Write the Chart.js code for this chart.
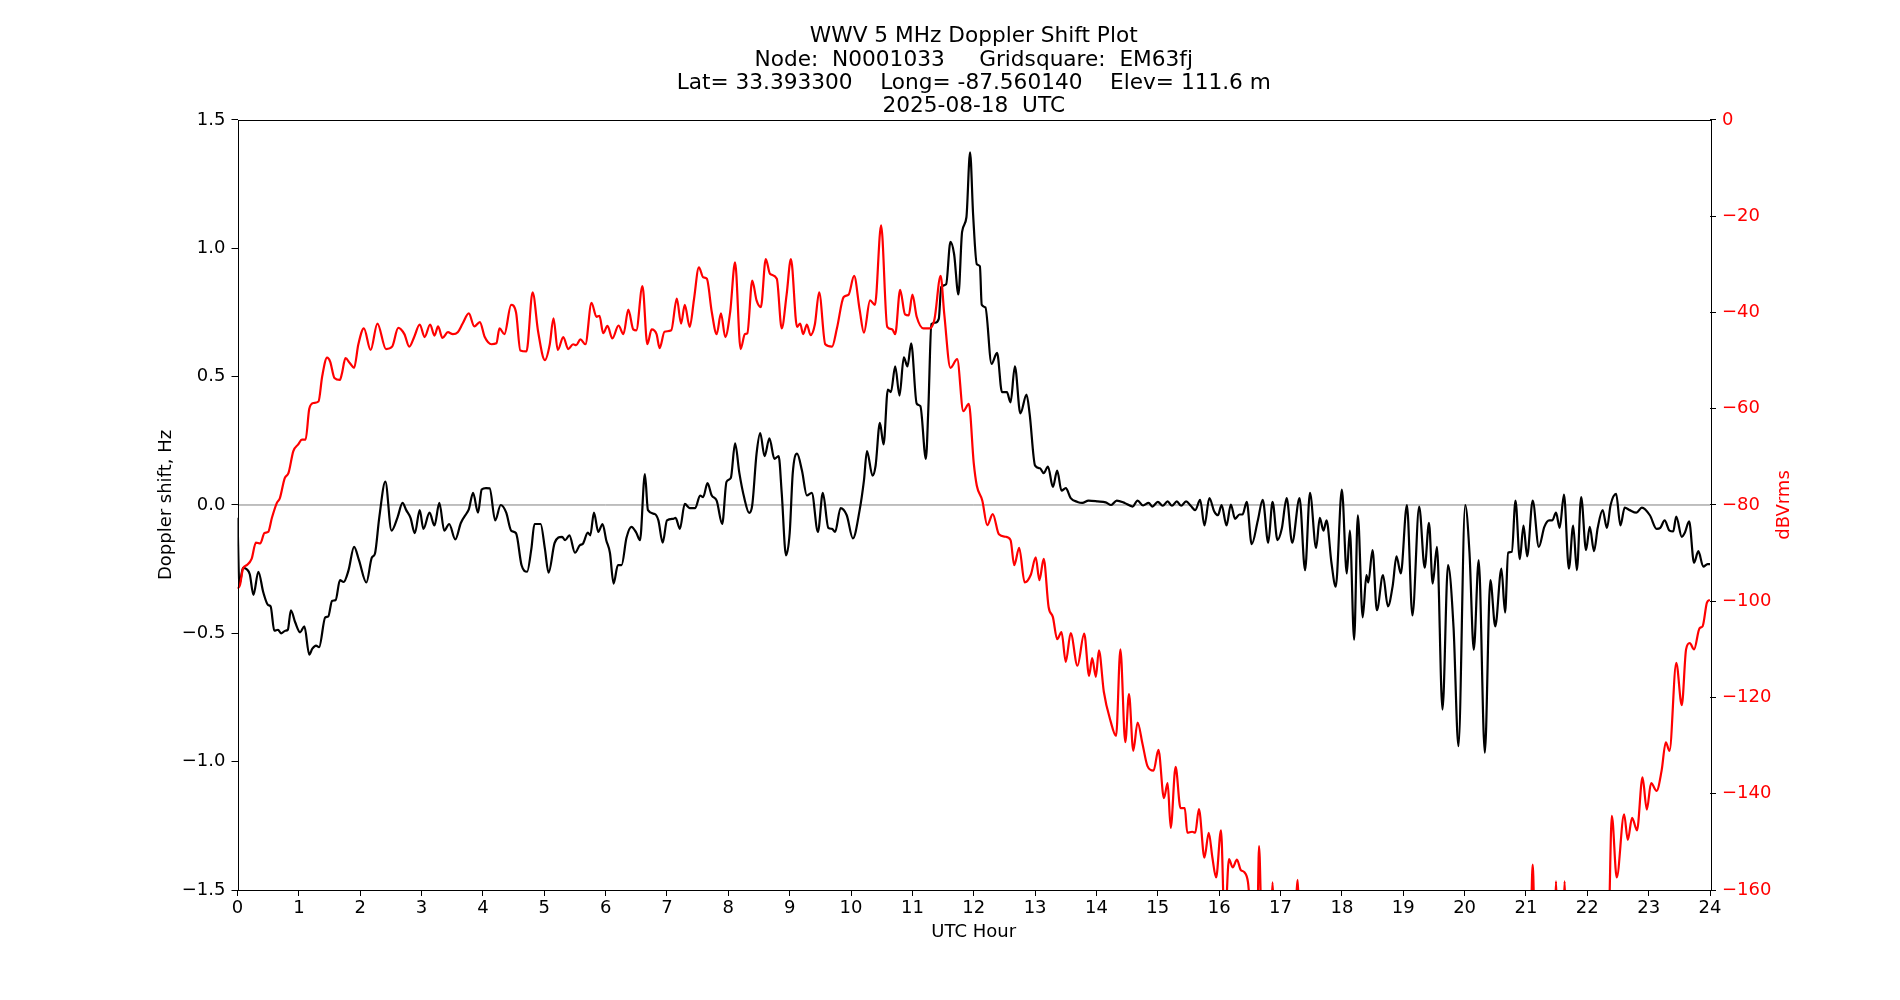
<!DOCTYPE html>
<html>
<head>
<meta charset="utf-8">
<title>WWV 5 MHz Doppler Shift Plot</title>
<script src="https://cdn.jsdelivr.net/npm/chart.js"></script>
<style>
  html, body { margin: 0; padding: 0; background: #ffffff; }
  #wrap { width: 1900px; height: 1000px; }
</style>
</head>
<body>
<div id="wrap"><canvas id="c" width="1900" height="1000"></canvas></div>
<script>
// ---------------- data ----------------
const titleLines = [
  'WWV 5 MHz Doppler Shift Plot',
  'Node:  N0001033     Gridsquare:  EM63fj',
  'Lat= 33.393300    Long= -87.560140    Elev= 111.6 m',
  '2025-08-18  UTC'
];
const xAxisLabel = 'UTC Hour';
const leftAxisLabel = 'Doppler shift, Hz';
const rightAxisLabel = 'dBVrms';

const hourTicks = [0,1,2,3,4,5,6,7,8,9,10,11,12,13,14,15,16,17,18,19,20,21,22,23,24];
const hzTicks = [-1.5,-1.0,-0.5,0.0,0.5,1.0,1.5];
const dbTicks = [-160,-140,-120,-100,-80,-60,-40,-20,0];

const dopplerHours = [
  0.00,0.03,0.09,0.15,0.20,0.26,0.34,0.42,0.50,0.54,0.60,0.66,0.71,0.78,0.82,0.87,0.94,1.02,1.09,1.17,
  1.22,1.28,1.33,1.43,1.48,1.54,1.60,1.67,1.73,1.81,1.90,1.98,2.10,2.19,2.24,2.31,2.41,2.51,2.61,2.69,
  2.75,2.82,2.89,2.97,3.03,3.13,3.21,3.29,3.37,3.45,3.55,3.64,3.74,3.77,3.84,3.92,3.98,4.05,4.11,4.20,
  4.29,4.38,4.46,4.54,4.63,4.72,4.79,4.84,4.94,5.01,5.07,5.17,5.29,5.34,5.41,5.50,5.58,5.63,5.71,5.75,
  5.81,5.88,5.95,6.01,6.07,6.13,6.20,6.26,6.34,6.42,6.50,6.56,6.64,6.69,6.80,6.86,6.93,7.00,7.10,7.14,
  7.21,7.29,7.37,7.46,7.54,7.59,7.66,7.73,7.81,7.90,7.97,8.04,8.11,8.18,8.26,8.34,8.39,8.46,8.52,8.59,
  8.67,8.75,8.82,8.87,8.94,9.00,9.05,9.12,9.20,9.28,9.36,9.46,9.54,9.63,9.69,9.74,9.83,9.93,10.03,10.14,
  10.21,10.26,10.35,10.40,10.47,10.53,10.60,10.65,10.72,10.79,10.86,10.92,10.98,11.07,11.13,11.22,11.26,11.31,11.37,11.43,
  11.47,11.55,11.62,11.68,11.75,11.81,11.88,11.94,11.99,12.05,12.10,12.13,12.19,12.29,12.38,12.46,12.54,12.60,12.67,12.76,
  12.86,12.91,13.00,13.08,13.14,13.21,13.29,13.36,13.43,13.50,13.58,13.69,13.77,13.87,14.02,14.15,14.24,14.33,14.46,14.59,
  14.67,14.76,14.85,14.91,15.00,15.08,15.16,15.23,15.31,15.38,15.46,15.54,15.61,15.69,15.76,15.84,15.92,15.98,16.04,16.12,
  16.19,16.26,16.33,16.38,16.45,16.53,16.63,16.71,16.80,16.87,16.95,17.02,17.10,17.19,17.31,17.40,17.48,17.58,17.64,17.70,
  17.75,17.83,17.90,18.00,18.08,18.13,18.20,18.26,18.34,18.40,18.43,18.50,18.57,18.67,18.75,18.83,18.89,18.96,19.06,19.15,
  19.26,19.35,19.42,19.48,19.55,19.64,19.73,19.82,19.90,20.01,20.08,20.15,20.23,20.33,20.42,20.50,20.60,20.66,20.71,20.77,
  20.83,20.90,20.96,21.02,21.11,21.21,21.30,21.38,21.43,21.49,21.55,21.62,21.70,21.77,21.83,21.90,21.98,22.04,22.11,22.17,
  22.25,22.32,22.38,22.47,22.54,22.61,22.69,22.80,22.89,23.02,23.13,23.19,23.26,23.34,23.40,23.45,23.54,23.59,23.66,23.74,
  23.81,23.89,23.96,24.00
];
const dopplerHz = [
  -0.05,-0.31,-0.245,-0.25,-0.27,-0.35,-0.26,-0.34,-0.39,-0.395,-0.49,-0.486,-0.50,-0.49,-0.486,-0.41,-0.457,-0.496,-0.473,-0.583,
  -0.56,-0.548,-0.554,-0.438,-0.434,-0.374,-0.37,-0.293,-0.30,-0.254,-0.163,-0.215,-0.302,-0.205,-0.19,-0.05,0.091,-0.10,-0.047,0.008,
  -0.02,-0.05,-0.11,-0.02,-0.093,-0.03,-0.08,0.008,-0.10,-0.074,-0.134,-0.07,-0.03,-0.017,0.047,-0.03,0.06,0.066,0.065,-0.06,
  0.0,-0.03,-0.10,-0.11,-0.235,-0.26,-0.17,-0.074,-0.074,-0.17,-0.264,-0.147,-0.124,-0.137,-0.118,-0.186,-0.157,-0.151,-0.108,-0.118,
  -0.03,-0.105,-0.074,-0.137,-0.186,-0.306,-0.234,-0.234,-0.128,-0.085,-0.108,-0.137,0.12,-0.02,-0.035,-0.06,-0.147,-0.06,-0.054,-0.05,
  -0.093,0.004,-0.012,-0.012,0.037,0.031,0.085,0.037,0.017,-0.074,0.09,0.105,0.24,0.124,0.027,-0.031,0.0,0.20,0.28,0.19,
  0.26,0.18,0.19,0.047,-0.196,-0.109,0.124,0.20,0.134,0.037,0.047,-0.105,0.047,-0.089,-0.093,-0.105,-0.012,-0.04,-0.13,-0.02,
  0.095,0.21,0.114,0.153,0.32,0.236,0.45,0.44,0.54,0.426,0.575,0.54,0.63,0.395,0.385,0.18,0.376,0.705,0.71,0.725,
  0.85,0.86,1.025,0.977,0.82,1.064,1.12,1.374,1.13,0.938,0.93,0.78,0.77,0.55,0.593,0.44,0.44,0.40,0.54,0.357,
  0.43,0.357,0.153,0.143,0.124,0.15,0.07,0.134,0.056,0.066,0.027,0.012,0.008,0.017,0.014,0.01,0.0,0.017,0.008,-0.006,
  0.017,-0.002,0.008,-0.006,0.012,-0.003,0.014,-0.003,0.014,-0.003,0.014,-0.004,-0.02,0.02,-0.08,0.027,-0.025,-0.04,0.0,-0.08,
  0.002,-0.054,-0.037,-0.037,0.012,-0.153,-0.06,0.02,-0.147,0.012,-0.137,-0.093,0.027,-0.147,0.027,-0.254,0.047,-0.167,-0.05,-0.10,
  -0.06,-0.225,-0.318,0.06,-0.267,-0.10,-0.525,-0.04,-0.438,-0.273,-0.302,-0.176,-0.41,-0.273,-0.395,-0.312,-0.20,-0.267,0.0,-0.43,
  -0.006,-0.244,-0.07,-0.306,-0.163,-0.797,-0.234,-0.477,-0.94,0.0,-0.186,-0.564,-0.215,-0.965,-0.293,-0.473,-0.248,-0.419,-0.186,-0.182,
  0.017,-0.211,-0.08,-0.20,0.017,-0.163,-0.085,-0.06,-0.06,-0.03,-0.089,0.04,-0.248,-0.08,-0.254,0.031,-0.176,-0.085,-0.18,-0.089,
  -0.02,-0.089,0.0,0.043,-0.08,-0.01,-0.02,-0.03,-0.01,-0.04,-0.093,-0.089,-0.06,-0.10,-0.103,-0.045,-0.124,-0.108,-0.064,-0.225,
  -0.18,-0.24,-0.23,-0.23
];

const powerHours = [
  0.00,0.04,0.09,0.15,0.23,0.30,0.37,0.44,0.50,0.56,0.64,0.69,0.77,0.83,0.91,0.99,1.05,1.11,1.17,1.24,
  1.32,1.38,1.46,1.51,1.58,1.67,1.70,1.76,1.83,1.90,1.97,2.06,2.17,2.28,2.42,2.52,2.62,2.72,2.80,2.88,
  2.97,3.05,3.14,3.21,3.27,3.34,3.43,3.51,3.59,3.67,3.77,3.86,3.95,4.03,4.14,4.22,4.27,4.35,4.46,4.54,
  4.61,4.71,4.81,4.90,5.01,5.09,5.15,5.22,5.31,5.39,5.47,5.52,5.59,5.67,5.77,5.85,5.90,5.96,6.03,6.11,
  6.21,6.29,6.37,6.45,6.50,6.60,6.68,6.75,6.83,6.88,6.96,7.07,7.16,7.23,7.29,7.37,7.44,7.52,7.59,7.65,
  7.73,7.81,7.88,7.95,8.03,8.11,8.20,8.27,8.31,8.39,8.46,8.53,8.61,8.68,8.79,8.87,8.95,9.02,9.12,9.17,
  9.22,9.28,9.34,9.41,9.48,9.58,9.69,9.77,9.88,9.96,10.05,10.14,10.21,10.31,10.39,10.49,10.59,10.67,10.72,10.80,
  10.88,10.94,11.00,11.07,11.18,11.28,11.36,11.46,11.52,11.62,11.73,11.83,11.92,12.00,12.05,12.14,12.22,12.31,12.41,12.52,
  12.60,12.66,12.74,12.83,12.93,13.01,13.07,13.14,13.22,13.29,13.36,13.43,13.50,13.58,13.69,13.80,13.88,13.93,13.99,14.04,
  14.12,14.23,14.32,14.39,14.47,14.53,14.60,14.67,14.75,14.83,14.93,15.01,15.10,15.16,15.21,15.29,15.37,15.44,15.48,15.56,
  15.61,15.67,15.76,15.83,15.89,15.95,16.03,16.09,16.16,16.22,16.29,16.35,16.41,16.47,16.55,16.62,16.65,16.70,16.83,16.87,
  16.91,17.22,17.28,17.32,21.07,21.11,21.15,21.46,21.49,21.52,21.60,21.63,21.66,22.34,22.40,22.48,22.60,22.66,22.73,22.81,
  22.90,22.97,23.04,23.13,23.21,23.28,23.34,23.45,23.54,23.61,23.67,23.74,23.83,23.88,23.95,24.00
];
const powerDb = [
  -97.4,-96.6,-93.2,-92.5,-91.2,-87.8,-88.0,-85.8,-85.6,-82.7,-79.6,-78.6,-74.4,-73.4,-68.8,-67.4,-66.4,-66.4,-60.0,-58.8,
  -58.5,-53.3,-49.4,-50.2,-53.6,-54.0,-52.8,-49.5,-50.5,-51.5,-46.6,-43.3,-47.8,-42.3,-47.6,-47.1,-43.2,-44.5,-47.1,-45.1,
  -42.5,-45.1,-42.5,-44.8,-42.9,-45.3,-44.1,-44.5,-44.1,-42.3,-40.2,-42.9,-42.0,-45.1,-46.6,-46.4,-43.3,-44.5,-38.4,-40.0,
  -47.9,-48.1,-35.8,-44.0,-49.9,-46.6,-41.2,-47.8,-45.1,-47.6,-46.6,-46.8,-45.6,-46.6,-38.0,-40.9,-40.7,-44.3,-42.8,-45.4,
  -42.7,-44.5,-39.4,-43.5,-43.7,-34.5,-46.6,-43.5,-44.5,-47.4,-44.0,-43.7,-37.1,-42.3,-38.4,-43.0,-37.3,-30.6,-32.7,-33.0,
  -39.9,-44.5,-40.2,-45.1,-39.9,-29.6,-47.6,-44.5,-44.3,-33.4,-37.5,-38.9,-28.9,-32.0,-33.0,-43.3,-36.3,-28.9,-43.0,-42.3,
  -44.5,-42.5,-44.7,-42.5,-35.8,-46.6,-47.1,-43.3,-36.8,-36.3,-32.4,-39.4,-44.2,-37.5,-38.4,-21.9,-43.0,-43.5,-44.5,-35.3,
  -40.4,-40.6,-36.3,-40.9,-43.3,-43.3,-41.4,-32.4,-40.4,-51.5,-49.7,-60.5,-59.0,-71.3,-76.0,-79.1,-84.2,-81.9,-86.1,-86.6,
  -87.3,-92.5,-88.9,-96.1,-94.5,-90.9,-95.6,-91.2,-101.2,-103.3,-107.9,-106.4,-112.6,-106.6,-113.4,-106.7,-115.5,-111.8,-115.7,-110.2,
  -118.8,-124.9,-128.0,-110.0,-129.3,-119.3,-131.1,-125.2,-129.6,-134.2,-135.2,-130.9,-140.9,-137.8,-147.1,-134.4,-143.0,-143.0,-148.1,-147.9,
  -148.1,-143.2,-153.3,-148.1,-153.3,-157.4,-147.6,-168.0,-153.6,-155.3,-153.7,-155.8,-156.3,-158.4,-170.0,-168.0,-150.9,-170.0,-170.0,-158.4,
  -170.0,-170.0,-157.9,-170.0,-170.0,-154.7,-170.0,-170.0,-158.2,-170.0,-170.0,-158.2,-170.0,-170.0,-144.6,-157.4,-144.3,-149.6,-145.0,-147.6,
  -136.6,-143.3,-137.8,-139.4,-135.3,-129.3,-131.1,-112.8,-121.6,-110.0,-108.7,-110.0,-105.6,-105.2,-100.3,-99.7
];

const zeroLineHours = [0, 24];
const zeroLineHz = [0, 0];

// ---------------- helpers ----------------
const toXY = (xs, ys) => xs.map((x, i) => ({ x: x, y: ys[i] }));
const MINUS = '\u2212';
const fmtHz = v => (v < 0 ? MINUS : '') + Math.abs(v).toFixed(1);
const fmtDb = v => (v < 0 ? MINUS : '') + Math.abs(Math.round(v));

const FONT = 'DejaVu Sans';
Chart.defaults.font.family = FONT;
Chart.defaults.color = '#000000';

const framePlugin = {
  id: 'frame',
  afterDraw(chart) {
    const { ctx, chartArea } = chart;
    ctx.save();
    ctx.strokeStyle = '#000000';
    ctx.lineWidth = 1;
    ctx.strokeRect(Math.round(chartArea.left) + 0.5, Math.round(chartArea.top) + 0.5,
                   Math.round(chartArea.right - chartArea.left), Math.round(chartArea.bottom - chartArea.top));
    // right axis title, rotated like matplotlib (reads bottom-to-top)
    ctx.fillStyle = '#ff0000';
    ctx.font = '18px "' + FONT + '"';
    ctx.textAlign = 'center';
    ctx.textBaseline = 'middle';
    ctx.translate(chartArea.right + 74, (chartArea.top + chartArea.bottom) / 2);
    ctx.rotate(-Math.PI / 2);
    ctx.fillText(rightAxisLabel, 0, 0);
    ctx.restore();
  }
};

new Chart(document.getElementById('c'), {
  type: 'line',
  data: {
    datasets: [
      {
        label: 'dBVrms',
        data: toXY(powerHours, powerDb),
        yAxisID: 'y2',
        borderColor: '#ff0000',
        borderWidth: 2.2,
        pointRadius: 0,
        cubicInterpolationMode: 'monotone',
        order: 0
      },
      {
        label: 'Doppler shift',
        data: toXY(dopplerHours, dopplerHz),
        yAxisID: 'y',
        borderColor: '#000000',
        borderWidth: 2.2,
        pointRadius: 0,
        cubicInterpolationMode: 'monotone',
        order: 1
      },
      {
        label: 'zero',
        data: toXY(zeroLineHours, zeroLineHz),
        yAxisID: 'y',
        borderColor: '#808080',
        borderWidth: 1,
        pointRadius: 0,
        order: 2
      }
    ]
  },
  options: {
    responsive: false,
    devicePixelRatio: 1,
    animation: false,
    events: [],
    layout: { padding: { left: 150, right: 0, top: 0, bottom: 57 } },
    plugins: {
      legend: { display: false },
      tooltip: { enabled: false },
      title: {
        display: true,
        fullSize: false,
        text: titleLines,
        color: '#000000',
        font: { family: FONT, size: 21.67, weight: 'normal', lineHeight: 1.075 },
        padding: { top: 25, bottom: 1.8 }
      }
    },
    scales: {
      x: {
        type: 'linear',
        position: 'bottom',
        min: 0,
        max: 24,
        afterFit: s => { s.height = 53; },
        afterBuildTicks: s => { s.ticks = hourTicks.map(v => ({ value: v })); },
        ticks: {
          color: '#000000',
          font: { family: FONT, size: 18 },
          padding: 2,
          maxRotation: 0,
          autoSkip: false,
          callback: v => String(v)
        },
        grid: { drawOnChartArea: false, drawTicks: true, tickLength: 6, tickColor: '#000000', tickWidth: 1 },
        border: { display: false },
        title: { display: true, text: xAxisLabel, color: '#000000', font: { family: FONT, size: 18 }, padding: { top: 0, bottom: 0 } }
      },
      y: {
        type: 'linear',
        position: 'left',
        min: -1.5,
        max: 1.5,
        afterFit: s => { s.width = 87.5; },
        afterBuildTicks: s => { s.ticks = hzTicks.map(v => ({ value: v })); },
        ticks: {
          color: '#000000',
          font: { family: FONT, size: 18 },
          padding: 6,
          autoSkip: false,
          callback: v => fmtHz(v)
        },
        grid: { drawOnChartArea: false, drawTicks: true, tickLength: 6, tickColor: '#000000', tickWidth: 1 },
        border: { display: false },
        title: { display: true, text: leftAxisLabel, color: '#000000', font: { family: FONT, size: 18 }, padding: { top: 6, bottom: 0 } }
      },
      y2: {
        type: 'linear',
        position: 'right',
        min: -160,
        max: 0,
        afterFit: s => { s.width = 190; },
        afterBuildTicks: s => { s.ticks = dbTicks.map(v => ({ value: v })); },
        ticks: {
          color: '#ff0000',
          font: { family: FONT, size: 18 },
          padding: 6,
          autoSkip: false,
          callback: v => fmtDb(v)
        },
        grid: { drawOnChartArea: false, drawTicks: true, tickLength: 6, tickColor: '#000000', tickWidth: 1 },
        border: { display: false },
        title: { display: false }
      }
    }
  },
  plugins: [framePlugin]
});
</script>
</body>
</html>
